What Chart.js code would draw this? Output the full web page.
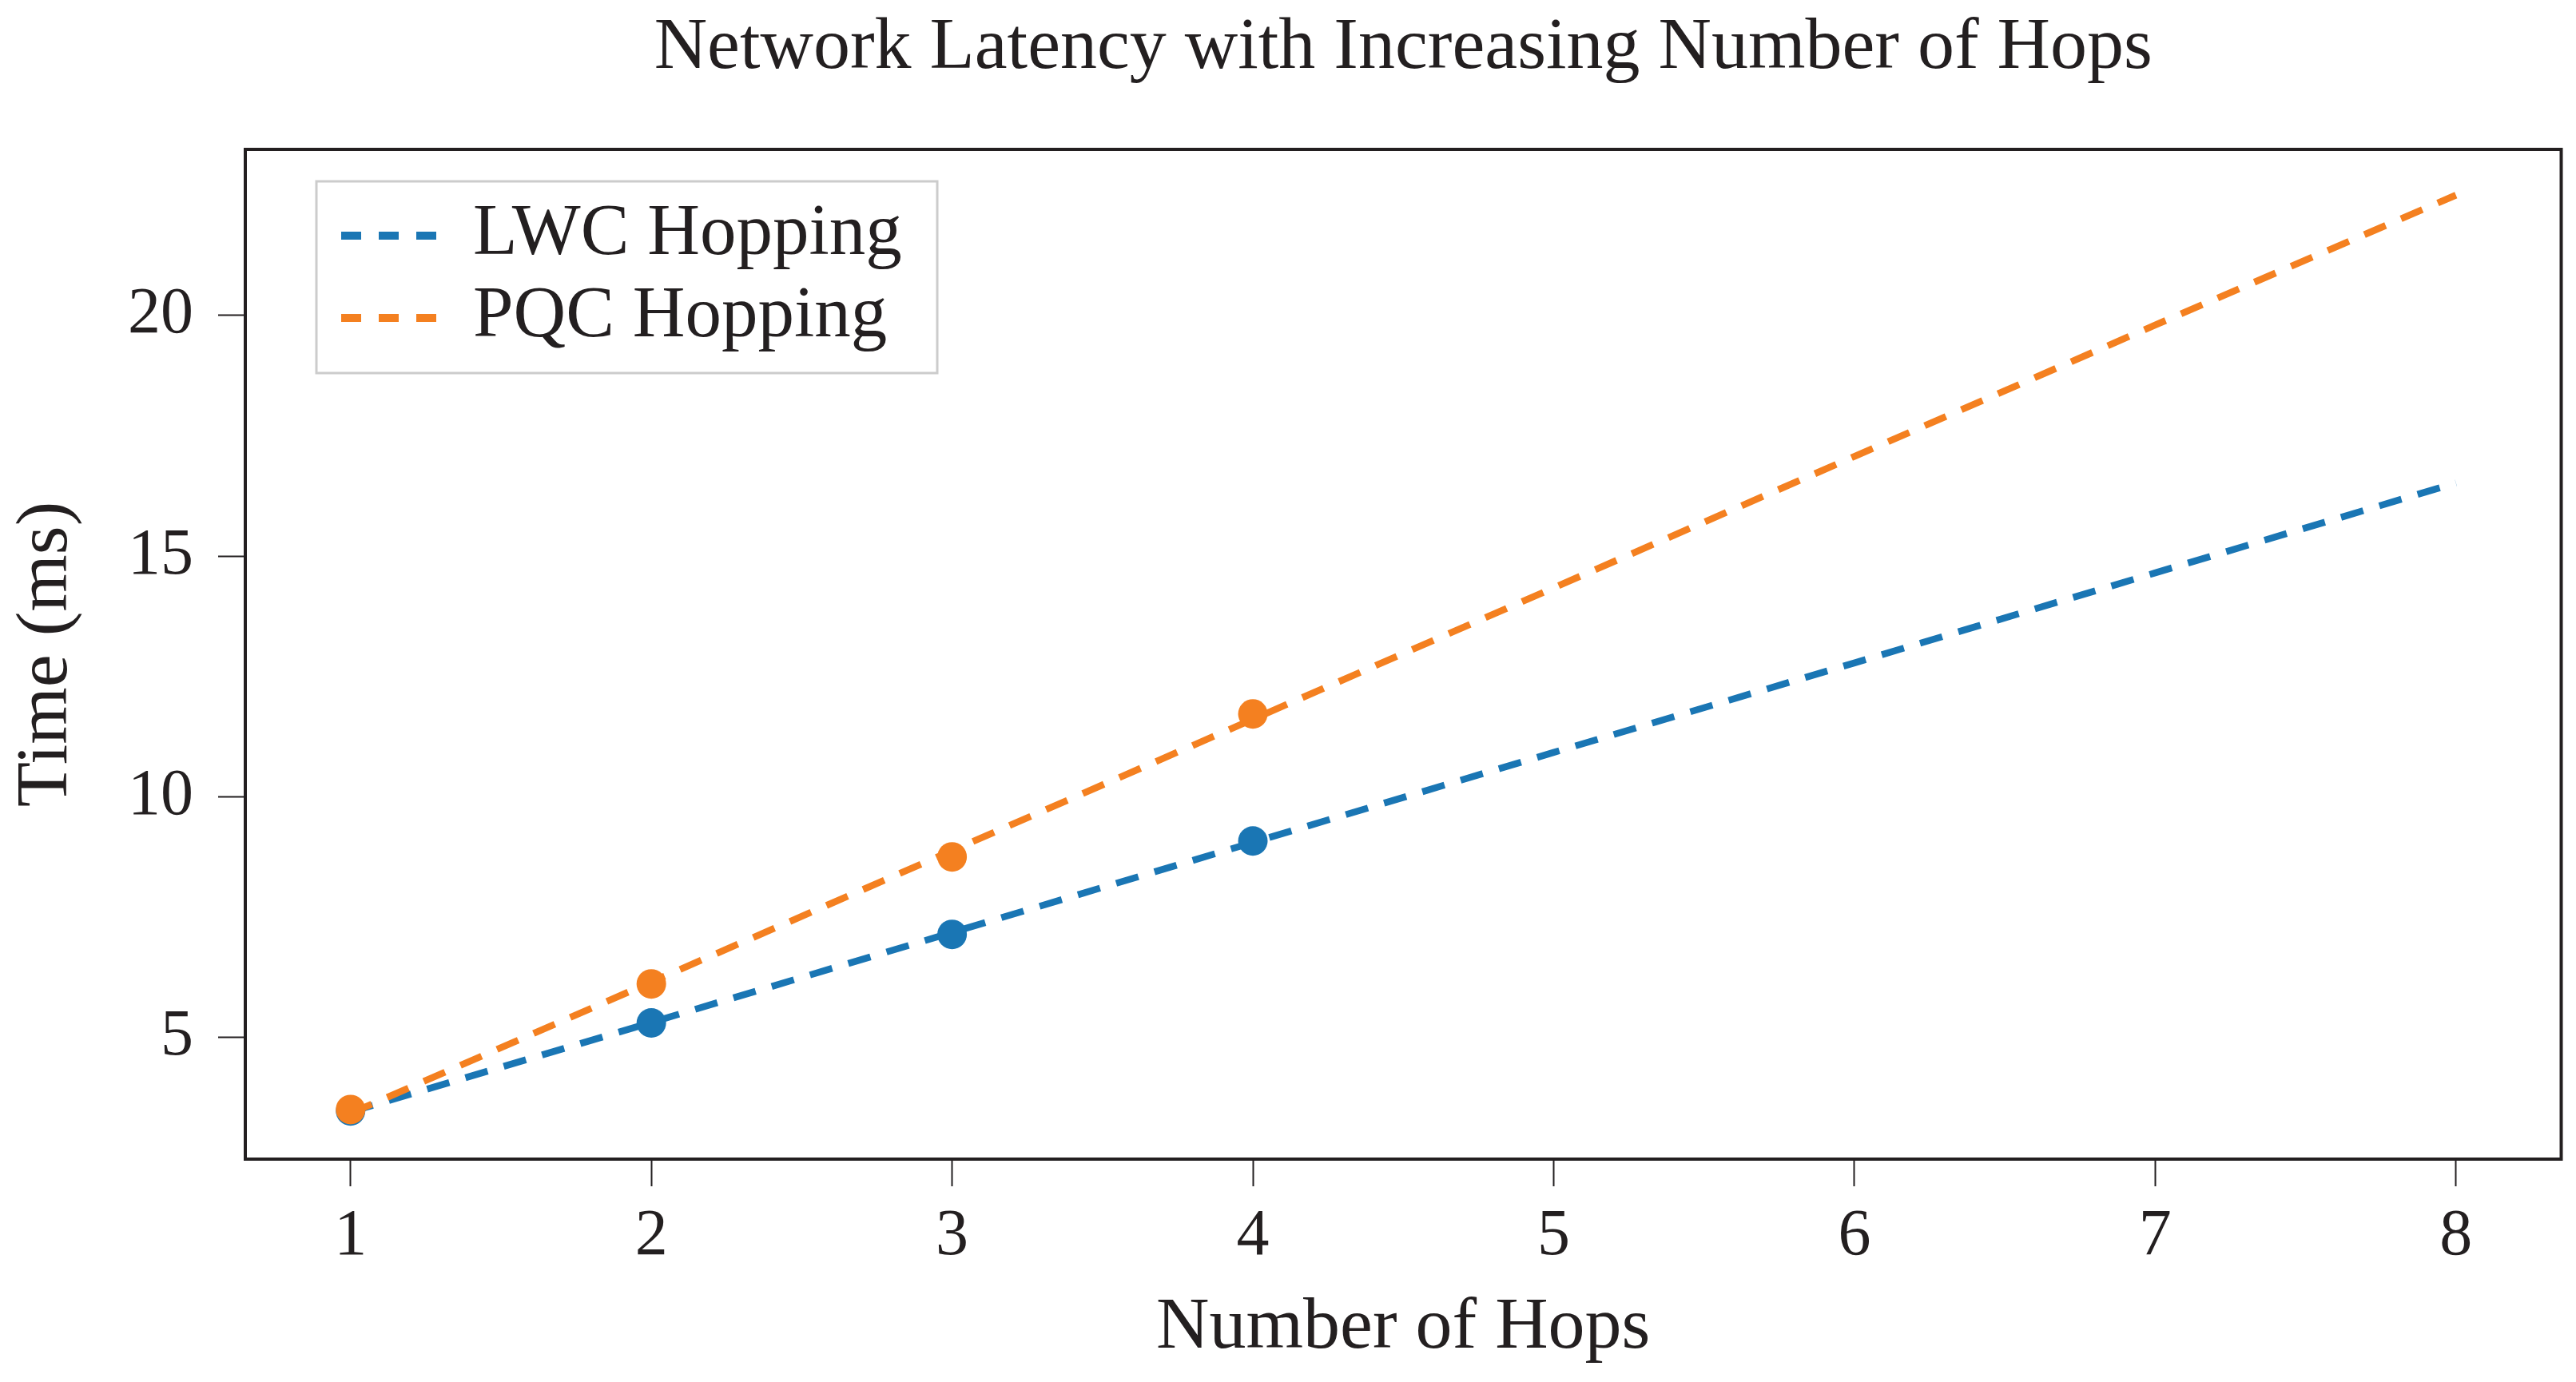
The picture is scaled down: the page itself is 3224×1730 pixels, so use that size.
<!DOCTYPE html>
<html>
<head>
<meta charset="utf-8">
<script src="https://cdn.jsdelivr.net/npm/chart.js@4"></script>
<style>
html,body{margin:0;padding:0;background:#ffffff;}
canvas{display:block;}
</style>
</head>
<body>
<canvas id="c" width="3224" height="1730"></canvas>
<script>
// ---- data ----
const hops = [1, 2, 3, 4, 5, 6, 7, 8];
const measuredHops = [1, 2, 3, 4];
const lwcMeasured = [3.47, 5.30, 7.14, 9.08];
const pqcMeasured = [3.50, 6.11, 8.75, 11.72];
const lwcTrend = [3.45, 5.31, 7.18, 9.05, 10.92, 12.78, 14.65, 16.52];
const pqcTrend = [3.42, 6.15, 8.88, 11.61, 14.34, 17.07, 19.80, 22.50];
const xTicks = [1, 2, 3, 4, 5, 6, 7, 8];
const yTicks = [5, 10, 15, 20];
const seriesNames = ['LWC Hopping', 'PQC Hopping'];
const chartTitle = 'Network Latency with Increasing Number of Hops';
const xTitle = 'Number of Hops';
const yTitle = 'Time (ms)';

// ---- styles ----
const BLUE = '#1a76b4';
const ORANGE = '#f48020';
const INK = '#231f20';
const FONT = "'Liberation Serif', 'Times New Roman', serif";

function pts(xs, ys) { return xs.map((x, i) => ({x: x, y: ys[i]})); }

const framePlugin = {
  id: 'frame',
  afterDraw(chart) {
    const {ctx, chartArea: a} = chart;
    ctx.save();
    ctx.strokeStyle = INK;
    ctx.lineWidth = 4;
    ctx.strokeRect(a.left, a.top, a.right - a.left, a.bottom - a.top);
    // title centred over the plot area
    ctx.fillStyle = INK;
    ctx.font = '92px ' + FONT;
    ctx.textAlign = 'center';
    ctx.textBaseline = 'alphabetic';
    ctx.fillText(chartTitle, (a.left + a.right) / 2, 85);
    ctx.restore();
  }
};

const legendPlugin = {
  id: 'insideLegend',
  afterDraw(chart) {
    const {ctx, chartArea: a} = chart;
    const bx = a.left + 89, by = a.top + 40, bw = 777, bh = 240;
    ctx.save();
    ctx.fillStyle = '#ffffff';
    ctx.fillRect(bx, by, bw, bh);
    ctx.strokeStyle = '#cccccc';
    ctx.lineWidth = 3;
    ctx.strokeRect(bx, by, bw, bh);
    const entries = chart.data.datasets.filter(d => seriesNames.includes(d.label));
    entries.forEach((d, i) => {
      const cy = by + 68 + i * 103;
      ctx.beginPath();
      ctx.strokeStyle = d.borderColor;
      ctx.lineWidth = 10;
      ctx.setLineDash([25, 22]);
      ctx.lineCap = 'butt';
      ctx.moveTo(bx + 31, cy);
      ctx.lineTo(bx + 155, cy);
      ctx.stroke();
      ctx.setLineDash([]);
      ctx.fillStyle = INK;
      ctx.font = '91px ' + FONT;
      ctx.textAlign = 'left';
      ctx.textBaseline = 'alphabetic';
      ctx.fillText(d.label, bx + 196, cy + 23);
    });
    ctx.restore();
  }
};

const tickFont = {family: FONT, size: 82, weight: 'normal'};
const labelFont = {family: FONT, size: 92, weight: 'normal'};

new Chart(document.getElementById('c').getContext('2d'), {
  type: 'line',
  data: {
    datasets: [
      {label: seriesNames[0], data: pts(hops, lwcTrend), borderColor: BLUE, backgroundColor: BLUE,
       borderWidth: 8.5, borderDash: [29, 21], borderCapStyle: 'butt', pointRadius: 0, fill: false, tension: 0, order: 3},
      {label: 'LWC measured', data: pts(measuredHops, lwcMeasured), showLine: false, pointRadius: 18.5,
       pointBackgroundColor: BLUE, pointBorderWidth: 0, borderColor: BLUE, order: 2},
      {label: seriesNames[1], data: pts(hops, pqcTrend), borderColor: ORANGE, backgroundColor: ORANGE,
       borderWidth: 8.5, borderDash: [29, 21], borderCapStyle: 'butt', pointRadius: 0, fill: false, tension: 0, order: 1},
      {label: 'PQC measured', data: pts(measuredHops, pqcMeasured), showLine: false, pointRadius: 18.5,
       pointBackgroundColor: ORANGE, pointBorderWidth: 0, borderColor: ORANGE, order: 0}
    ]
  },
  options: {
    responsive: false,
    animation: false,
    devicePixelRatio: 1,
    layout: {padding: {left: 0, right: 17, top: 187, bottom: 0}},
    plugins: {
      legend: {display: false},
      tooltip: {enabled: false},
      title: {display: false}
    },
    scales: {
      x: {
        type: 'linear', min: 0.65, max: 8.35,
        afterBuildTicks: s => { s.ticks = xTicks.map(v => ({value: v})); },
        afterFit: s => { s.height = 279; },
        grid: {drawOnChartArea: false, drawTicks: true, tickLength: 34, tickWidth: 2, tickColor: INK},
        border: {display: false},
        ticks: {padding: 14, font: tickFont, color: INK, maxRotation: 0, autoSkip: false},
        title: {display: true, text: xTitle, color: INK, font: labelFont, padding: {top: 0, bottom: 12}}
      },
      y: {
        type: 'linear', min: 2.47, max: 23.45,
        afterBuildTicks: s => { s.ticks = yTicks.map(v => ({value: v})); },
        afterFit: s => { s.width = 307; },
        grid: {drawOnChartArea: false, drawTicks: true, tickLength: 34, tickWidth: 2, tickColor: INK},
        border: {display: false},
        ticks: {padding: 31, font: tickFont, color: INK, autoSkip: false},
        title: {display: true, text: yTitle, color: INK, font: labelFont, padding: {top: 4, bottom: 0}}
      }
    }
  },
  plugins: [framePlugin, legendPlugin]
});
</script>
</body>
</html>
